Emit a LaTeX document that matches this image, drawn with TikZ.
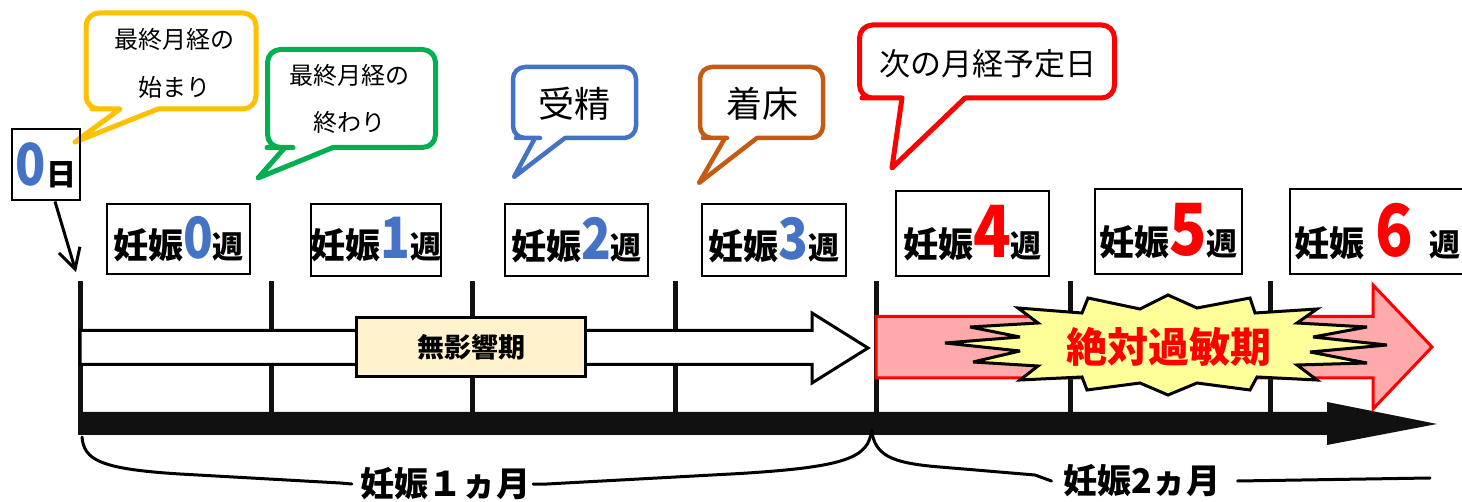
\documentclass[tikz,border=0pt]{standalone}
\usepackage{fontspec}
\newfontfamily\jp{Noto Sans CJK JP}
\usetikzlibrary{arrows.meta}
\definecolor{cblue}{HTML}{4472C4}
\definecolor{cyel}{HTML}{FFC000}
\definecolor{cgrn}{HTML}{00B050}
\definecolor{corg}{HTML}{C55A11}
\definecolor{cred}{HTML}{FF0000}
\definecolor{cpink}{HTML}{FFAAAA}
\definecolor{cstar}{HTML}{FFFF99}
\definecolor{cmu}{HTML}{FFF2CC}
\definecolor{cblk}{HTML}{111111}
\newcommand\jfs[1]{\fontsize{#1}{#1}\selectfont}
\newcommand\dig[3]{{\color{#1}\jfs{#2}\scalebox{0.86}[1]{#3}}}
\newcommand\wklab[3]{{\jfs{35}妊娠}\dig{#1}{#2}{#3}{\jfs{31}週}}
\begin{document}
\begin{tikzpicture}[x=1pt,y=-1pt,
  callout/.style={line width=5pt,fill=white,line join=round},
  calltext/.style={font=\jp\jfs{24},align=center,inner sep=0pt},
  wkbox/.style={draw=black,line width=2pt,inner sep=0pt,font=\jp\bfseries},
  tickline/.style={line width=5pt,draw=cblk},
  bracel/.style={line width=3pt,line join=round,line cap=round},
  month/.style={font=\jp\bfseries\jfs{34},inner sep=0pt},
]
\useasboundingbox (0,0) rectangle (1462,502);

% ---- callouts
\draw[callout,draw=cyel] (75,142) -- (158,109) -- (170,109) [rounded corners=13pt] -- (256,109) -- (256,13) -- (86,13) -- (86,109) -- (105,109) [sharp corners] -- (120,109) -- cycle;
\node[calltext] (c1) at (174,63) {最終月経の\\[24pt]始まり};

\draw[callout,draw=cgrn] (258,178) -- (333,147.5) -- (345,147.5) [rounded corners=13pt] -- (435.5,147.5) -- (435.5,49.5) -- (267.5,49.5) -- (267.5,147.5) -- (280,147.5) [sharp corners] -- (285,147.5) -- cycle;
\node[calltext] (c2) at (349,98.5) {最終月経の\\[23pt]終わり};

\draw[callout,line width=4.5pt,draw=cblue] (514,177) -- (565,138) -- (577,138) [rounded corners=12pt] -- (636,138) -- (636,67) -- (513,67) -- (513,138) -- (528,138) [sharp corners] -- (535,138) -- cycle;
\node[font=\jp\jfs{36},inner sep=0pt] (c3) at (574,104) {受精};

\draw[callout,line width=4.5pt,draw=corg] (699,183) -- (757,138) -- (769,138) [rounded corners=12pt] -- (823,138) -- (823,67) -- (700,67) -- (700,138) -- (715,138) [sharp corners] -- (725,138) -- cycle;
\node[font=\jp\jfs{36},inner sep=0pt] (c4) at (762.5,104) {着床};

\draw[callout,draw=cred] (892,168) -- (965,98) -- (977,98) [rounded corners=13pt] -- (1114.5,98) -- (1114.5,25) -- (859.5,25) -- (859.5,98) -- (875,98) [sharp corners] -- (902,98) -- cycle;
\node[font=\jp\jfs{31},inner sep=0pt] (c5) at (987.5,64) {次の月経予定日};

% ---- day 0
\node[draw=black,line width=2pt,minimum width=68,minimum height=71,inner sep=0pt,font=\jp\bfseries] (day) at (46,165)
  {\dig{cblue}{58}{0}{\jfs{30}日}};
\coordinate (dtip) at (76,272);
\draw[line width=3pt,-{Straight Barb[length=20pt,width=22pt]}] ([xshift=9pt]day.south) -- (dtip);

% ---- week boxes
\node[wkbox,minimum width=143,minimum height=70] (w0) at (178.5,239) {\wklab{cblue}{57}{0}};
\node[wkbox,minimum width=128,minimum height=72] (w1) at (376,240) {\wklab{cblue}{57}{1}};
\node[wkbox,minimum width=143,minimum height=72] (w2) at (576.5,240) {\wklab{cblue}{57}{2}};
\node[wkbox,minimum width=144,minimum height=72] (w3) at (774,240) {\wklab{cblue}{57}{3}};
\node[wkbox,minimum width=153,minimum height=85] (w4) at (972.5,233.5) {\wklab{cred}{72}{4}};
\node[wkbox,minimum width=147,minimum height=85] (w5) at (1168.5,231.5) {\wklab{cred}{72}{5}};
\node[wkbox,minimum width=175,minimum height=85] (w6) at (1377.5,231.5)
  {{\jfs{35}妊娠}\hspace{11pt}\dig{cred}{72}{6}\hspace{16pt}{\jfs{31}週}};

% ---- ticks
\foreach \x [count=\i] in {80,271,472,675,876,1070,1270} {
  \coordinate (ta\i) at (\x,281);
  \coordinate (tb\i) at (\x,412);
  \draw[tickline] (ta\i) -- (tb\i);
}

% ---- timeline arrow
\fill[cblk] (78,412) -- (1327,412) -- (1327,402) -- (1437,424) -- (1327,445) -- (1327,435) -- (78,435) -- cycle;

% ---- white arrow
\draw[line width=3pt,fill=white,line join=miter] (80,330.5) -- (812,330.5) -- (812,313) -- (868,348) -- (812,383) -- (812,364.5) -- (80,364.5) -- cycle;
\node[draw=black,line width=3pt,fill=cmu,minimum width=229,minimum height=59,inner sep=0pt,font=\jp\bfseries\jfs{27}] (mu) at (471,347) {無影響期};

% ---- red arrow
\draw[line width=3pt,draw=cred,fill=cpink,line join=miter] (876,316.5) -- (1373,316.5) -- (1373,285) -- (1432,347) -- (1373,409) -- (1373,378) -- (876,378) -- cycle;

% ---- starburst
\draw[line width=3pt,fill=cstar,line join=miter,miter limit=4]
 (1168,295) -- (1140,309) -- (1088,298) -- (1082,313) -- (1018,308) -- (1038,323) -- (970,327) -- (1020,337) -- (945,343)
 -- (1020,351) -- (973,362) -- (1038,366) -- (1020,380) -- (1082,377) -- (1087,390) -- (1140,383) -- (1168,395)
 -- (1197,383) -- (1250,390) -- (1257,377) -- (1317,380) -- (1297,365) -- (1367,363) -- (1310,352) -- (1387,345)
 -- (1313,337) -- (1367,327) -- (1297,323) -- (1317,309) -- (1255,313) -- (1250,298) -- (1197,308) -- cycle;
\node[font=\jp\bfseries\jfs{41},text=cred,inner sep=0pt] (zt) at (1169,347) {絶対過敏期};

% ---- months
\node[month] (m1) at (445,484) {妊娠１ヵ月};
\node[month] (m2) at (1142,481) {妊娠2ヵ月};
\coordinate (b1a) at (82,437);
\coordinate (b1t) at (871.5,430);
\coordinate (b2e) at (1430,478);
\draw[bracel] (b1a) .. controls (84,460) and (100,469) .. (180,474) -- (340,483) -- ([xshift=-8pt]m1.west);
\draw[bracel] ([xshift=3pt]m1.east) -- (547,484) -- (740,473.5) .. controls (845,467) and (869,458) .. (b1t);
\draw[bracel] (b1t) .. controls (875,455) and (890,463) .. (940,467) -- (1035,475) -- ([xshift=-12pt]m2.west);
\draw[bracel] ([xshift=17pt]m2.east) -- (b2e);
\end{tikzpicture}
\end{document}
